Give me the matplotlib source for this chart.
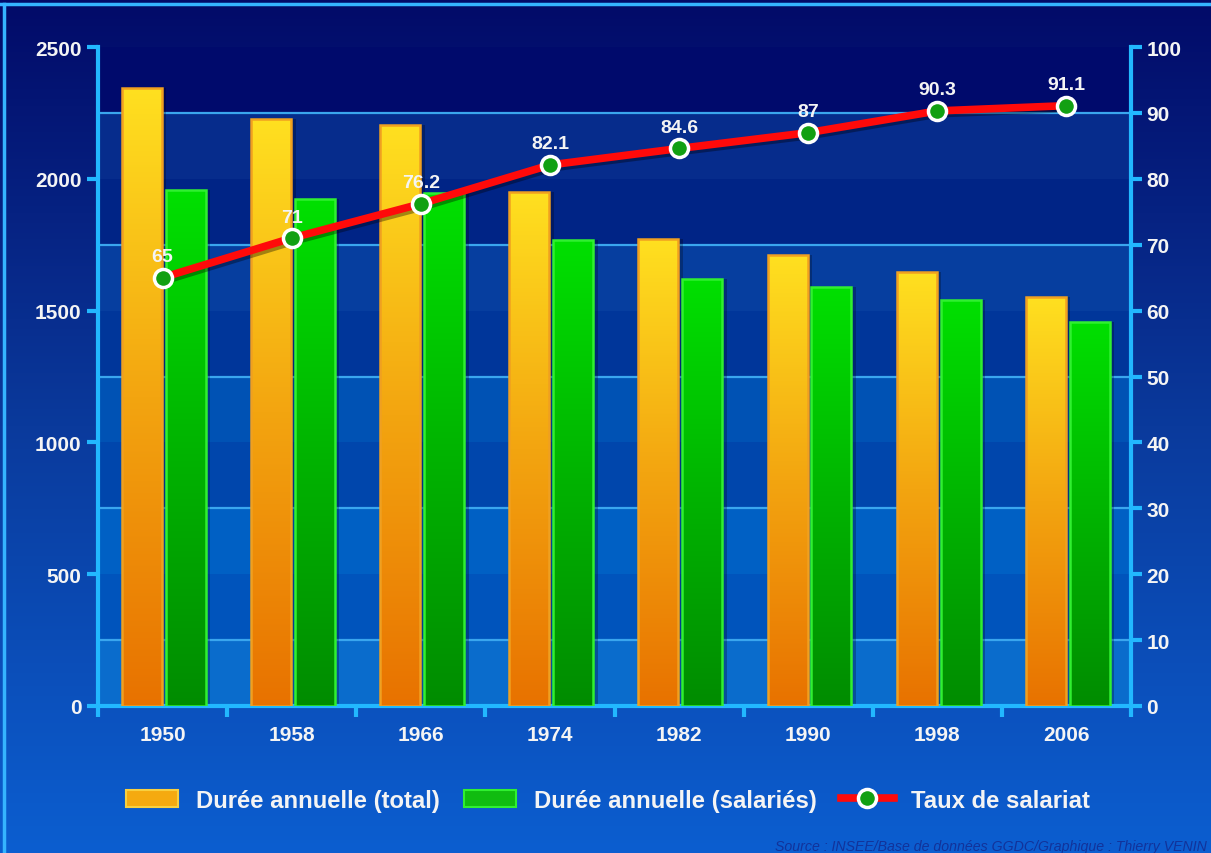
import numpy as np
import matplotlib
matplotlib.use("Agg")
import matplotlib.pyplot as plt
import matplotlib.patheffects as pe
from matplotlib.colors import LinearSegmentedColormap
from matplotlib.patches import Patch
from matplotlib.lines import Line2D

plt.rcParams['font.family'] = ['Liberation Sans', 'DejaVu Sans']
plt.rcParams['font.weight'] = 'bold'

# ---------------------------------------------------------------
# data
# ---------------------------------------------------------------
years = ['1950', '1958', '1966', '1974', '1982', '1990', '1998', '2006']
duree_total = [2345, 2228, 2205, 1950, 1772, 1711, 1646, 1552]
duree_salaries = [1957, 1923, 1945, 1768, 1620, 1590, 1540, 1457]
taux_salariat = [65, 71, 76.2, 82.1, 84.6, 87, 90.3, 91.1]

legend_labels = ['Durée annuelle (total)', 'Durée annuelle (salariés)', 'Taux de salariat']
source_txt = 'Source : INSEE/Base de données GGDC/Graphique : Thierry VENIN'

# ---------------------------------------------------------------
# styling
# ---------------------------------------------------------------
W, H = 1211, 854
axis_col = '#22b8ff'
grid_col = '#3aa6ee'
txt_col = '#f4f4f4'
band_colors = ['#0a6ccc', '#0054bc', '#0060c4', '#0046ac', '#0052b4',
               '#00369a', '#063e9f', '#002486', '#062c8c', '#000a6c']
orange_cmap = LinearSegmentedColormap.from_list('orng', ['#e87200', '#f3a510', '#ffe020'])
green_cmap = LinearSegmentedColormap.from_list('grn', ['#008c00', '#00b400', '#00e000'])
bg_cmap = LinearSegmentedColormap.from_list('bg', ['#0c5ed0', '#0a3a9c', '#020a68'])

fig = plt.figure(figsize=(W / 100, H / 100), dpi=100)

# background gradient + light frame
bg = fig.add_axes([0, 0, 1, 1], zorder=-10)
grad = np.linspace(0, 1, 256).reshape(-1, 1)
bg.imshow(grad, cmap=bg_cmap, aspect='auto', extent=[0, 1, 0, 1], origin='lower')
bg.plot([0, 1], [1 - 5 / H] * 2, color='#35b4ff', lw=2.5)
bg.plot([4 / W] * 2, [0, 1 - 5 / H], color='#35b4ff', lw=2.5)
bg.set_xlim(0, 1)
bg.set_ylim(0, 1)
bg.axis('off')

# ---------------------------------------------------------------
# bars (left axis)
# ---------------------------------------------------------------
ax = fig.add_axes([98 / W, 147 / H, 1033 / W, 659 / H])
ax.patch.set_alpha(0)
for k, c in enumerate(band_colors):
    ax.axhspan(k * 250, (k + 1) * 250, color=c, lw=0, zorder=0)

x = np.arange(len(years)) + 0.5
bw = 0.31

# soft shadows
ax.bar(x - 0.16 + 0.035, duree_total, width=bw, color='black', alpha=0.25, lw=0, zorder=2)
ax.bar(x + 0.18 + 0.035, duree_salaries, width=bw, color='black', alpha=0.25, lw=0, zorder=2)

bars_t = ax.bar(x - 0.16, duree_total, width=bw, color='none', edgecolor='#f0a020', lw=1.8, zorder=4)
bars_s = ax.bar(x + 0.18, duree_salaries, width=bw, color='none', edgecolor='#30f030', lw=1.8, zorder=4)
for bars, cm in ((bars_t, orange_cmap), (bars_s, green_cmap)):
    for b in bars:
        x0, w, h = b.get_x(), b.get_width(), b.get_height()
        im = ax.imshow(grad, cmap=cm, extent=[x0, x0 + w, 0, h], aspect='auto',
                       origin='lower', zorder=3)
        im.set_clip_path(b)

ax.set_xlim(0, 8)
ax.set_ylim(0, 2500)

# grid every 250 behind the bars
ax.set_axisbelow(True)
ax.set_yticks(np.arange(0, 2501, 500))
ax.set_yticks(np.arange(250, 2501, 250), minor=True)
ax.yaxis.grid(True, which='minor', color=grid_col, lw=1.6)
ax.tick_params(axis='y', which='minor', length=0)
ax.tick_params(axis='y', which='major', direction='out', length=8, width=3,
               color=axis_col, labelcolor=txt_col, labelsize=15, pad=4)

ax.set_xticks(np.arange(0, 9))
ax.set_xticklabels([])
ax.set_xticks(x, minor=True)
ax.set_xticklabels(years, minor=True)
ax.tick_params(axis='x', which='major', direction='out', length=8, width=3, color=axis_col)
ax.tick_params(axis='x', which='minor', length=0, labelcolor=txt_col, labelsize=15, pad=14)

for s in ('top', 'right'):
    ax.spines[s].set_visible(False)
for s in ('left', 'bottom'):
    ax.spines[s].set_color(axis_col)
    ax.spines[s].set_linewidth(3)

# ---------------------------------------------------------------
# line (right axis)
# ---------------------------------------------------------------
ax2 = ax.twinx()
ax2.set_ylim(0, 100)
ax2.set_yticks(np.arange(0, 101, 10))
ax2.tick_params(axis='y', direction='out', length=8, width=3, color=axis_col,
                labelcolor=txt_col, labelsize=15, pad=3)
for s in ('top', 'left', 'bottom'):
    ax2.spines[s].set_visible(False)
ax2.spines['right'].set_color(axis_col)
ax2.spines['right'].set_linewidth(3)

ax2.plot(x, taux_salariat, color='#ff0a0a', lw=5.5, solid_joinstyle='round',
         solid_capstyle='round', zorder=5,
         path_effects=[pe.SimpleLineShadow(offset=(2, -2), alpha=0.35), pe.Normal()])
ax2.plot(x, taux_salariat, ls='none', marker='o', ms=13, mfc='#12a012', mec='white',
         mew=2.5, zorder=6)
for xi, v in zip(x, taux_salariat):
    ax2.annotate(f'{v:g}', (xi, v), xytext=(0, 9), textcoords='offset points',
                 ha='center', va='bottom', color=txt_col, fontsize=14, fontweight='bold')

# ---------------------------------------------------------------
# legend + source
# ---------------------------------------------------------------
handles = [
    Patch(facecolor='#f5aa10', edgecolor='#f8d040', lw=1.5),
    Patch(facecolor='#10bc10', edgecolor='#30f030', lw=1.5),
    Line2D([], [], color='#ff0a0a', lw=5.5, marker='o', ms=13, mfc='#12a012',
           mec='white', mew=2.5),
]
leg = fig.legend(handles, legend_labels, loc='center', bbox_to_anchor=(0.502, 0.062),
                 ncol=3, frameon=False, fontsize=17.2, handlelength=2.2,
                 handletextpad=0.75, columnspacing=1.0)
for t in leg.get_texts():
    t.set_color(txt_col)
    t.set_fontweight('bold')

fig.text(1207 / W, 1 - 847 / H, source_txt, ha='right', va='center', style='italic',
         fontweight='normal', color='#12339a', fontsize=10.2)

fig.savefig('out.png', dpi=100)
